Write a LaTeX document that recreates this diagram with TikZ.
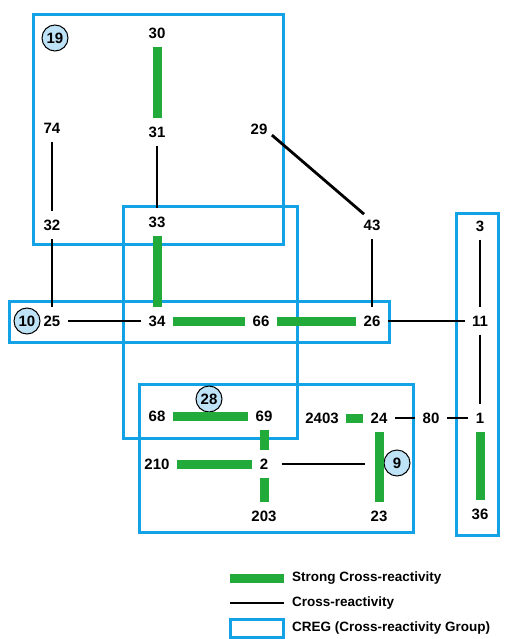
\documentclass[tikz,border=0pt]{standalone}
\usepackage{fontspec}
\setmainfont{Liberation Sans}
\definecolor{cregblue}{RGB}{20,162,230}
\definecolor{stronggreen}{RGB}{34,170,58}
\definecolor{circfill}{RGB}{190,226,246}
\begin{document}
\begin{tikzpicture}[x=1pt,y=-1pt,
  num/.style={font=\fontsize{15}{15}\selectfont\bfseries, text height=10.8pt, text depth=0pt, inner xsep=7.5pt, inner ysep=8.3pt, outer sep=0pt},
  grp/.style={circle, draw=black, line width=1pt, fill=circfill, minimum size=26pt, inner sep=0pt, font=\fontsize{15}{15}\selectfont\bfseries},
  creg/.style={draw=cregblue, line width=3pt},
  strong/.style={draw=stronggreen, line width=9pt},
  weak/.style={draw=black, line width=2.8pt},
  legtext/.style={font=\fontsize{13.5}{14}\selectfont\bfseries, anchor=west, inner sep=0pt}]
\useasboundingbox (0,0) rectangle (510,639);
% CREG boxes
\draw[creg] (33,15) rectangle (283,244);
\draw[creg] (123,206) rectangle (297,438);
\draw[creg] (9,301) rectangle (389,342);
\draw[creg] (139,384) rectangle (413,532);
\draw[creg] (456,213) rectangle (498,535);
% group labels
\node[grp] (g19) at (55,38) {19};
\node[grp] (g10) at (27,321) {10};
\node[grp] (g28) at (209,399) {28};
\node[grp] (g9) at (397,463) {9};
% numbers
\node[num] (n30) at (157,33) {30};
\node[num] (n74) at (52,128) {74};
\node[num] (n31) at (157,132) {31};
\node[num] (n29) at (259,129) {29};
\node[num] (n32) at (52,225) {32};
\node[num] (n33) at (157,222) {33};
\node[num] (n43) at (372,225) {43};
\node[num] (n3) at (480,226) {3};
\node[num] (n25) at (52,321) {25};
\node[num] (n34) at (157,321) {34};
\node[num] (n66) at (261,321) {66};
\node[num] (n26) at (372,321) {26};
\node[num] (n11) at (480,321) {11};
\node[num] (n68) at (157,416) {68};
\node[num] (n69) at (264,416) {69};
\node[num] (n2403) at (322,418) {2403};
\node[num] (n24) at (379,418) {24};
\node[num] (n80) at (431,418) {80};
\node[num] (n1) at (480,418) {1};
\node[num] (n210) at (157,464) {210};
\node[num] (n2) at (264,464) {2};
\node[num] (n203) at (264,516) {203};
\node[num] (n23) at (379,516) {23};
\node[num] (n36) at (480,514) {36};
\coordinate (c9) at (365,464);
% strong cross-reactivity
\draw[strong] (n30) -- (n31);
\draw[strong] (n33) -- (n34);
\draw[strong] (n34) -- (n66);
\draw[strong] (n66) -- (n26);
\draw[strong] (n68) -- (n69);
\draw[strong] (n69) -- (n2);
\draw[strong] (n210) -- (n2);
\draw[strong] (n2) -- (n203);
\draw[strong] (n2403) -- (n24);
\draw[strong] (n24) -- (n23);
\draw[strong] (n1) -- (n36);
% cross-reactivity
\draw[weak] (n74) -- (n32);
\draw[weak] (n31) -- (n33);
\draw[weak] (n32) -- (n25);
\draw[weak, shorten <=17pt, shorten >=10.5pt] ([yshift=5pt]n29.center) -- ([yshift=4pt]n43.center);
\draw[weak] (n43) -- (n26);
\draw[weak] (n3) -- (n11);
\draw[weak] (n25) -- (n34);
\draw[weak] (n26) -- (n11);
\draw[weak] (n11) -- (n1);
\draw[weak] (n24) -- (n80);
\draw[weak] (n80) -- (n1);
\draw[weak, shorten <=6pt] (n2) -- (c9);
% legend
\coordinate (l1a) at (230,578); \coordinate (l1b) at (284,578);
\coordinate (l2a) at (230,603); \coordinate (l2b) at (284,603);
\draw[strong] (l1a) -- (l1b);
\draw[weak] (l2a) -- (l2b);
\draw[creg] (230,619) rectangle (283,637);
\node[legtext] (t1) at (292,578) {Strong Cross-reactivity};
\node[legtext] (t2) at (292,603) {Cross-reactivity};
\node[legtext] (t3) at (292,628) {CREG (Cross-reactivity Group)};
\end{tikzpicture}
\end{document}
